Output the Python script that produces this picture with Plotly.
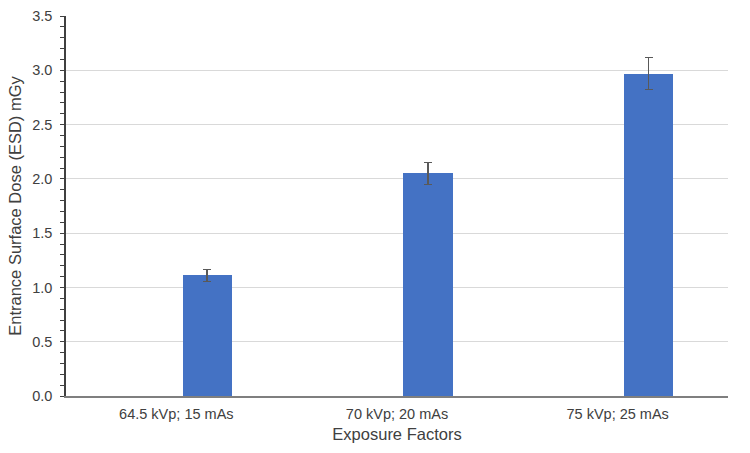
import plotly.graph_objects as go

categories = ["64.5 kVp; 15 mAs", "70 kVp; 20 mAs", "75 kVp; 25 mAs"]
esd_values = [1.11, 2.05, 2.97]
esd_errors = [0.055, 0.10, 0.148]
y_ticks = [0.0, 0.5, 1.0, 1.5, 2.0, 2.5, 3.0, 3.5]

fig = go.Figure()
fig.add_trace(go.Bar(
    x=categories, y=esd_values,
    marker=dict(color="#4472C4", line=dict(width=0)),
    width=0.224, offset=0.028,
    error_y=dict(type="data", array=esd_errors, visible=True,
                 color="#595959", thickness=1.5, width=4),
    showlegend=False,
))

fig.update_layout(
    width=750, height=453,
    margin=dict(l=66, r=22, t=16, b=57),
    plot_bgcolor="white", paper_bgcolor="white",
    font=dict(family="Liberation Sans, Arial, sans-serif", size=14.5, color="#595959"),
    bargap=0,
)
fig.update_xaxes(
    automargin=False,
    showline=True, linecolor="#7f7f7f", linewidth=1.5,
    ticks="", showgrid=False,
    tickfont=dict(size=14.5, color="#404040"),
    ticklabelstandoff=4,
    title=dict(text="Exposure Factors", font=dict(size=16.5, color="#404040"), standoff=7),
)
fig.update_yaxes(
    automargin=False,
    range=[0, 3.5], tickvals=y_ticks, ticktext=[f"{v:.1f}" for v in y_ticks],
    showline=True, linecolor="#404040", linewidth=1.5,
    ticks="outside", ticklen=4, tickcolor="#404040",
    minor=dict(dtick=0.1, ticks="outside", ticklen=4, tickcolor="#404040", showgrid=False),
    showgrid=True, gridcolor="#D9D9D9", gridwidth=1,
    zeroline=False,
    tickfont=dict(size=14.5, color="#404040"),
    ticklabelstandoff=5,
    title=dict(text="Entrance Surface Dose (ESD) mGy", font=dict(size=16.5, color="#404040"), standoff=6),
)

fig.write_html("out.html")
